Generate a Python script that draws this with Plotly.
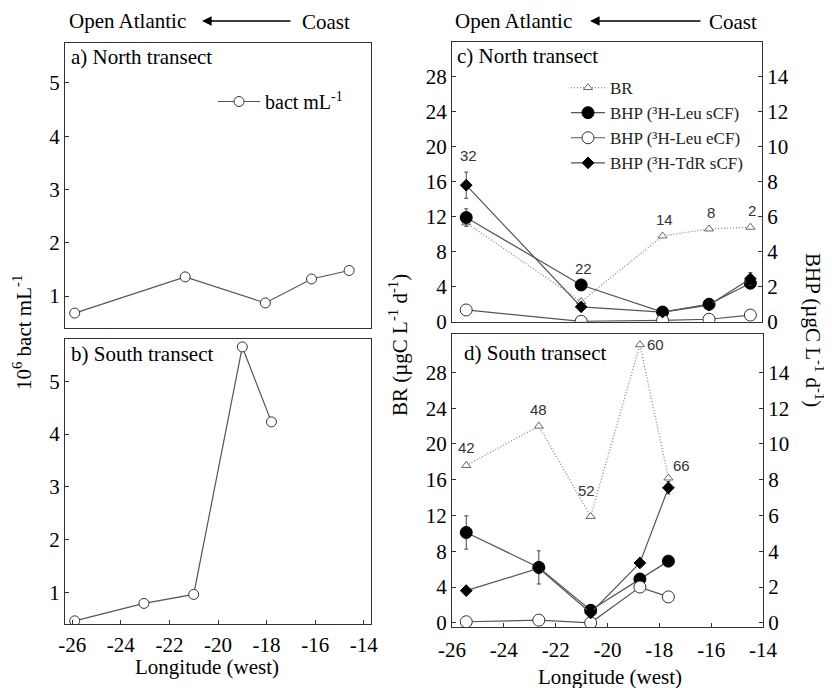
import plotly.graph_objects as go

# ---------------- data ----------------
a_lon = [-25.9, -21.35, -18.05, -16.15, -14.6]
a_bact = [0.68, 1.36, 0.87, 1.32, 1.48]

b_lon = [-25.9, -23.05, -21.0, -19.0, -17.8]
b_bact = [0.46, 0.79, 0.96, 5.65, 4.23]

c_lon = [-25.45, -21.0, -17.85, -16.05, -14.45]
c_br = [11.3, 2.3, 9.8, 10.6, 10.8]
c_leu_s = [5.95, 2.1, 0.55, 1.0, 2.2]
c_leu_s_err = [0.5, 0, 0, 0, 0]
c_leu_e = [0.67, 0.02, 0.08, 0.14, 0.38]
c_tdr = [7.8, 0.85, 0.55, 0.95, 2.45]
c_tdr_err = [0.75, 0, 0, 0, 0.35]
c_labels = ["32", "22", "14", "8", "2"]

d_lon = [-25.45, -22.65, -20.65, -18.75, -17.65]
d_br = [17.6, 22.0, 11.9, 31.1, 16.2]
d_leu_s = [5.05, 3.1, 0.7, 2.45, 3.45]
d_leu_s_err = [0.93, 0.93, 0, 0, 0]
d_leu_e = [0.06, 0.15, 0.0, 2.0, 1.45]
d_tdr = [1.8, 3.05, 0.55, 3.35, 7.55]
d_tdr_err = [0, 0, 0, 0, 0.35]
d_labels = ["42", "48", "52", "60", "66"]

x_ticks = [-26, -24, -22, -20, -18, -16, -14]
x_ticktext = ["-26", "-24", "-22", "-20", "-18", "-16", "-14"]
bact_ticks = [1, 2, 3, 4, 5]
br_ticks = [0, 4, 8, 12, 16, 20, 24, 28]
bhp_ticks = [0, 2, 4, 6, 8, 10, 12, 14]

# ---------------- layout helpers ----------------
# the page body adds an 8px margin, so the figure is made 8px smaller and all
# positions below are given in screenshot pixels and shifted back by 8px.
OFF = 8
W, H = 832 - OFF, 688 - OFF
SERIF = "Liberation Serif"
LINE = "#555"


def px(x):
    return (x - OFF) / W


def py(y):
    return (H - (y - OFF)) / H


def dx(x0, x1):
    return [px(x0), px(x1)]


def dy(top, bottom):
    return [py(bottom), py(top)]


fig = go.Figure()

# ---- panels a, b ----
fig.add_trace(go.Scatter(x=a_lon, y=a_bact, xaxis="x", yaxis="y", mode="lines+markers",
                         name="bact mL<sup>-1</sup>", legend="legend",
                         line=dict(color=LINE, width=1.2),
                         marker=dict(symbol="circle", size=10, color="white",
                                     line=dict(color="#333", width=1))))
fig.add_trace(go.Scatter(x=b_lon, y=b_bact, xaxis="x2", yaxis="y2", mode="lines+markers",
                         showlegend=False,
                         line=dict(color=LINE, width=1.2),
                         marker=dict(symbol="circle", size=10, color="white",
                                     line=dict(color="#333", width=1))))


# ---- panels c, d ----
def add_right_panel(lon, br, leu_s, leu_s_err, leu_e, tdr, tdr_err, xa, ya_left, ya_right, legend):
    fig.add_trace(go.Scatter(x=lon, y=br, xaxis=xa, yaxis=ya_left, mode="lines+markers",
                             name="BR", showlegend=legend, legend="legend2",
                             line=dict(color="#888", width=1.3, dash="1px,2px"),
                             marker=dict(symbol="triangle-up", size=8, color="white",
                                         line=dict(color="#666", width=1))))
    fig.add_trace(go.Scatter(x=lon, y=leu_s, xaxis=xa, yaxis=ya_right, mode="lines+markers",
                             name="BHP (³H-Leu sCF)", showlegend=legend, legend="legend2",
                             line=dict(color=LINE, width=1.2),
                             error_y=dict(type="data", array=leu_s_err, visible=True,
                                          color="#444", thickness=1, width=2),
                             marker=dict(symbol="circle", size=12, color="black",
                                         line=dict(color="black", width=1))))
    fig.add_trace(go.Scatter(x=lon, y=leu_e, xaxis=xa, yaxis=ya_right, mode="lines+markers",
                             name="BHP (³H-Leu eCF)", showlegend=legend, legend="legend2",
                             line=dict(color=LINE, width=1.2),
                             marker=dict(symbol="circle", size=12, color="white",
                                         line=dict(color="#333", width=1))))
    fig.add_trace(go.Scatter(x=lon, y=tdr, xaxis=xa, yaxis=ya_right, mode="lines+markers",
                             name="BHP (³H-TdR sCF)", showlegend=legend, legend="legend2",
                             line=dict(color=LINE, width=1.2),
                             error_y=dict(type="data", array=tdr_err, visible=True,
                                          color="#444", thickness=1, width=2),
                             marker=dict(symbol="diamond", size=9, color="black",
                                         line=dict(color="black", width=1))))


add_right_panel(c_lon, c_br, c_leu_s, c_leu_s_err, c_leu_e, c_tdr, c_tdr_err, "x3", "y3", "y4", True)
add_right_panel(d_lon, d_br, d_leu_s, d_leu_s_err, d_leu_e, d_tdr, d_tdr_err, "x4", "y5", "y6", False)

# ---------------- axes ----------------
tickfont = dict(family=SERIF, size=21, color="black")
frame = dict(showline=True, linecolor="#333", linewidth=1.2, mirror=True, showgrid=False,
             zeroline=False, ticks="inside", ticklen=4, tickcolor="#333", tickfont=tickfont,
             automargin=False)

fig.update_layout(
    xaxis=dict(frame, domain=dx(65, 371), anchor="y", range=[-26.3, -13.7],
               tickvals=x_ticks, showticklabels=False, ticks=""),
    yaxis=dict(frame, domain=dy(43, 328), anchor="x", range=[0.4, 5.75], tickvals=bact_ticks),
    xaxis2=dict(frame, domain=dx(65, 371), anchor="y2", range=[-26.3, -13.7],
                tickvals=x_ticks, ticktext=x_ticktext, ticklabelstandoff=2),
    yaxis2=dict(frame, domain=dy(339, 624), anchor="x2", range=[0.4, 5.8], tickvals=bact_ticks),
    xaxis3=dict(frame, domain=dx(452, 762), anchor="y3", range=[-26, -14],
                tickvals=x_ticks, showticklabels=False, ticks=""),
    yaxis3=dict(frame, domain=dy(41.7, 321.7), anchor="x3", range=[0, 32], tickvals=br_ticks,
                mirror=False),
    yaxis4=dict(frame, domain=dy(41.7, 321.7), anchor="x3", overlaying="y3", side="right",
                range=[0, 16], tickvals=bhp_ticks, mirror=False),
    xaxis4=dict(frame, domain=dx(452, 763), anchor="y5", range=[-26, -14],
                tickvals=x_ticks, ticktext=x_ticktext, ticklabelstandoff=3),
    yaxis5=dict(frame, domain=dy(334, 627.3), anchor="x4", range=[-0.5, 32.3], tickvals=br_ticks,
                mirror=False),
    yaxis6=dict(frame, domain=dy(334, 627.3), anchor="x4", overlaying="y5", side="right",
                range=[-0.25, 16.15], tickvals=bhp_ticks, mirror=False),
)

# ---------------- legends ----------------
fig.update_layout(
    legend=dict(x=px(213), y=py(82), xanchor="left", yanchor="top",
                bgcolor="rgba(0,0,0,0)", font=dict(family=SERIF, size=20, color="black"),
                itemwidth=42),
    legend2=dict(x=px(566), y=py(70), xanchor="left", yanchor="top",
                 bgcolor="rgba(0,0,0,0)", font=dict(family=SERIF, size=17, color="#222"),
                 tracegroupgap=0, itemwidth=34),
)

# ---------------- annotations ----------------
ann = []


def paper_text(x, y, text, size=21, angle=0, xanchor="center"):
    ann.append(dict(x=px(x), y=py(y), xref="paper", yref="paper", text=text,
                    showarrow=False, textangle=angle, xanchor=xanchor, yanchor="middle",
                    font=dict(family=SERIF, size=size, color="black")))


# header with arrows
for ox, ax0, ax1, cx in [(128, 202, 292, 326), (514, 590, 702, 733)]:
    paper_text(ox, 21, "Open Atlantic", size=21)
    paper_text(cx, 22, "Coast", size=21)
    ann.append(dict(x=px(ax0), y=py(21), xref="paper", yref="paper", text="",
                    showarrow=True, ax=ax1 - ax0, ay=0, axref="pixel", ayref="pixel",
                    arrowhead=2, arrowsize=1.2, arrowwidth=1.6, arrowcolor="black"))

# panel titles
paper_text(69, 57, "a) North transect", size=21, xanchor="left")
paper_text(69, 354, "b) South transect", size=21, xanchor="left")
paper_text(455, 56, "c) North transect", size=21, xanchor="left")
paper_text(462, 353, "d) South transect", size=21, xanchor="left")

# axis titles
paper_text(22, 333, "10<sup>6</sup> bact mL<sup>-1</sup>", size=21, angle=-90)
paper_text(398, 345, "BR (µgC L<sup>-1</sup> d<sup>-1</sup>)", size=21, angle=-90)
paper_text(815, 330, "BHP (µgC L<sup>-1</sup> d<sup>-1</sup>)", size=21, angle=90)
paper_text(207, 667, "Longitude (west)", size=21)
paper_text(610, 677, "Longitude (west)", size=21)

# station number labels (placed just above the highest mark at each station)
numfont = dict(family="Liberation Sans", size=15, color="#333")


def station_top(i, br, leu_s, leu_s_err, leu_e, tdr, tdr_err):
    return max(br[i], 2 * (leu_s[i] + leu_s_err[i]), 2 * leu_e[i], 2 * (tdr[i] + tdr_err[i]))


c_offsets = [(2, 6, "center", "bottom")] * 5
for i, lab in enumerate(c_labels):
    xs, ys, xa, ya = c_offsets[i]
    ann.append(dict(x=c_lon[i], y=station_top(i, c_br, c_leu_s, c_leu_s_err, c_leu_e, c_tdr, c_tdr_err),
                    xref="x3", yref="y3", text=lab, showarrow=False, xshift=xs, yshift=ys,
                    xanchor=xa, yanchor=ya, font=numfont))

d_offsets = [(0, 7, "center", "bottom"), (0, 6, "center", "bottom"), (-4, 15, "center", "bottom"),
             (5, 0, "left", "middle"), (3, 12, "left", "middle")]
for i, lab in enumerate(d_labels):
    xs, ys, xa, ya = d_offsets[i]
    ann.append(dict(x=d_lon[i], y=station_top(i, d_br, d_leu_s, d_leu_s_err, d_leu_e, d_tdr, d_tdr_err),
                    xref="x4", yref="y5", text=lab, showarrow=False, xshift=xs, yshift=ys,
                    xanchor=xa, yanchor=ya, font=numfont))

fig.update_layout(
    annotations=ann,
    width=W, height=H,
    margin=dict(l=0, r=0, t=0, b=0),
    paper_bgcolor="white", plot_bgcolor="white",
    font=dict(family=SERIF, color="black"),
)

fig.write_html("out.html")
